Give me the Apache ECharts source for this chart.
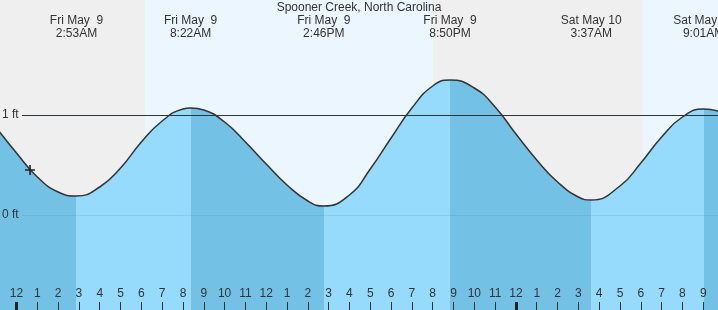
<!DOCTYPE html>
<html>
<head>
<meta charset="utf-8">
<script src="https://cdn.jsdelivr.net/npm/echarts@6/dist/echarts.min.js"></script>
<style>
html,body{margin:0;padding:0;background:#fff;}
#chart{width:718px;height:310px;}
</style>
</head>
<body>
<div id="chart"></div>
<script>
// Hours measured from midnight starting Fri May 9
var hours =   [-1,   0,    1,    2,    2.883, 4,    5,    6,    7,    8,    8.367, 9,    10,   11,   12,   13,   14,   14.767, 16,   17,   18,   19,   20,   20.833, 22,   23,   24,   25,   26,   27,   27.617, 29,   30,   31,   32,   33.017, 34];
var heights = [0.88, 0.62, 0.38, 0.23, 0.19,  0.28, 0.47, 0.73, 0.94, 1.06, 1.07,  1.05, 0.93, 0.73, 0.51, 0.30, 0.14, 0.09,   0.20, 0.46, 0.77, 1.07, 1.29, 1.35,   1.27, 1.08, 0.81, 0.55, 0.33, 0.18, 0.15,   0.29, 0.52, 0.78, 0.98, 1.06,   1.02];

var extremeHours = [2.883, 8.367, 14.767, 20.833, 27.617, 33.017];
var extremeDates = ['Fri May  9', 'Fri May  9', 'Fri May  9', 'Fri May  9', 'Sat May 10', 'Sat May 10'];
var extremeTimes = ['2:53AM', '8:22AM', '2:46PM', '8:50PM', '3:37AM', '9:01AM'];

var sunHours = [6.17, 20.01, 30.1]; // sunrise, sunset, sunrise
var tickHours = [-1,0,1,2,3,4,5,6,7,8,9,10,11,12,13,14,15,16,17,18,19,20,21,22,23,24,25,26,27,28,29,30,31,32,33];
var midnightHours = [0, 24];
var nowPoint = [0.65, 0.45];
var yLabelValues = [0, 1];

var X_MIN = -0.793, X_MAX = 33.71;
var Y_MIN = -0.95, Y_MAX = 2.15;
var LINE_START = 0.264;

var NIGHT = '#efefef', DAY = '#ebf6fe';
var FALL = '#73c2e6', RISE = '#96dbfc';
var FONT = 'Liberation Sans, Arial, sans-serif';

var tide = hours.map(function(h, i){ return [h, heights[i]]; });

function hourLabel(v){
  var h = Math.round(v);
  var m = ((h % 12) + 12) % 12;
  return String(m === 0 ? 12 : m);
}

var pieces = [];
var prev = -Infinity;
for (var i = 0; i < extremeHours.length; i++) {
  pieces.push({gte: prev, lt: extremeHours[i], color: i % 2 === 0 ? FALL : RISE});
  prev = extremeHours[i];
}
pieces.push({gte: prev, lt: Infinity, color: extremeHours.length % 2 === 0 ? FALL : RISE});

var bands = [
  [{xAxis: X_MIN, itemStyle:{color: NIGHT}}, {xAxis: sunHours[0]}],
  [{xAxis: sunHours[0], itemStyle:{color: DAY}}, {xAxis: sunHours[1]}],
  [{xAxis: sunHours[1], itemStyle:{color: NIGHT}}, {xAxis: sunHours[2]}],
  [{xAxis: sunHours[2], itemStyle:{color: DAY}}, {xAxis: X_MAX}]
];

var chart = echarts.init(document.getElementById('chart'));
chart.setOption({
  animation: false,
  backgroundColor: '#ffffff',
  textStyle: {fontFamily: FONT},
  title: {
    text: 'Spooner Creek, North Carolina',
    left: 'center', top: -3,
    textStyle: {fontSize: 12, fontWeight: 'normal', color: '#333', fontFamily: FONT}
  },
  grid: {left: 0, right: 0, top: 0, bottom: 0, containLabel: false, outerBoundsMode: 'none'},
  xAxis: [
    {
      type: 'value', min: X_MIN, max: X_MAX, position: 'bottom', z: 10,
      axisLine: {show: false, onZero: false}, splitLine: {show: false},
      axisTick: {show: true, inside: true, length: 8, customValues: tickHours, lineStyle: {color: '#333', width: 1}},
      axisLabel: {show: true, inside: true, margin: 10, customValues: tickHours, formatter: hourLabel,
        color: '#333', fontSize: 12, fontFamily: FONT, hideOverlap: false, showMinLabel: true}
    },
    {
      type: 'value', min: X_MIN, max: X_MAX, position: 'bottom', z: 11,
      axisLine: {show: false, onZero: false}, splitLine: {show: false},
      axisTick: {show: true, inside: true, length: 8, customValues: midnightHours, lineStyle: {color: '#222', width: 3}},
      axisLabel: {show: false}
    },
    {
      type: 'value', min: X_MIN, max: X_MAX, position: 'top', z: 10,
      axisLine: {show: false, onZero: false}, splitLine: {show: false}, axisTick: {show: false},
      axisLabel: {show: true, inside: true, margin: 14, customValues: extremeHours,
        formatter: function(v){
          var best = 0;
          for (var i = 0; i < extremeHours.length; i++) if (Math.abs(extremeHours[i]-v) < Math.abs(extremeHours[best]-v)) best = i;
          return extremeDates[best] + '\n' + extremeTimes[best];
        },
        color: '#333', fontSize: 12, lineHeight: 13, align: 'center', hideOverlap: false,
        fontFamily: FONT}
    }
  ],
  yAxis: {
    type: 'value', min: Y_MIN, max: Y_MAX, z: 10,
    axisLine: {show: false, onZero: false}, splitLine: {show: false}, axisTick: {show: false},
    axisLabel: {show: true, inside: true, margin: 2, customValues: yLabelValues,
      formatter: function(v){ return v + ' ft'; },
      color: '#333', fontSize: 12, fontFamily: FONT}
  },
  visualMap: {
    type: 'piecewise', show: false, dimension: 0, seriesIndex: 1, pieces: pieces
  },
  series: [
    {
      type: 'line', data: tide, z: 1, silent: true,
      showSymbol: false, lineStyle: {opacity: 0},
      markArea: {silent: true, data: bands},
      markLine: {
        silent: true, symbol: ['none','none'], label: {show: false},
        lineStyle: {color: '#333', width: 1, type: 'solid'},
        data: [[{coord: [LINE_START, 1]}, {coord: [X_MAX, 1]}]]
      }
    },
    {
      type: 'line', data: tide, z: 2, smooth: 0.5, silent: true,
      showSymbol: false, lineStyle: {width: 0},
      areaStyle: {opacity: 1, origin: 'start'}
    },
    {
      type: 'line', data: tide, z: 3, smooth: 0.5, silent: true,
      showSymbol: false, lineStyle: {color: '#333', width: 1.5},
      markLine: {
        silent: true, symbol: ['none','none'], label: {show: false},
        lineStyle: {color: 'rgba(20,70,110,0.10)', width: 1, type: 'solid'},
        data: [
          [{coord: [LINE_START, 0]}, {coord: [X_MAX, 0]}],
          [{coord: [LINE_START, 1]}, {coord: [X_MAX, 1]}]
        ]
      }
    },
    {
      type: 'scatter', data: [nowPoint], z: 4, silent: true,
      symbol: 'path://M4.2,0h1.6v10h-1.6zM0,4.2h10v1.6h-10z', symbolSize: 10,
      itemStyle: {color: '#222', opacity: 1}
    }
  ]
});
</script>
</body>
</html>
